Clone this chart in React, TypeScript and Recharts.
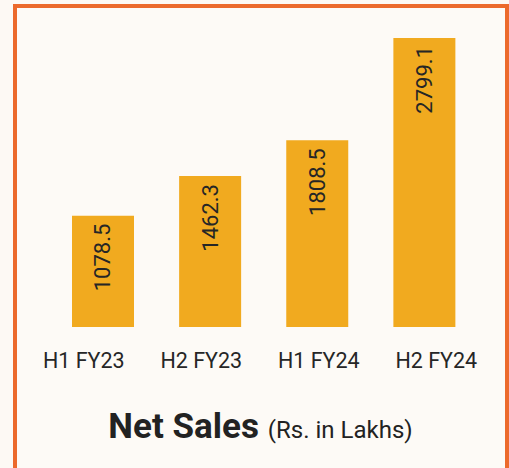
import React from 'react';
import { BarChart, Bar, XAxis, YAxis, LabelList } from 'recharts';

const categories = ['H1 FY23', 'H2 FY23', 'H1 FY24', 'H2 FY24'];
const netSales = [1078.5, 1462.3, 1808.5, 2799.1];

const data = categories.map((c, i) => ({ name: c, value: netSales[i] }));

const FONT = 'Roboto, "Noto Sans", sans-serif';

const VLabel = (props: any) => {
  const { x, y, width, value } = props;
  const cx = x + width / 2;
  const ty = y + 8;
  return (
    <text
      x={cx + 7.5}
      y={ty}
      transform={`rotate(-90 ${cx + 7.5} ${ty})`}
      textAnchor="end"
      fontSize={22}
      fontFamily={FONT}
      fill="#262626"
    >
      {value}
    </text>
  );
};

const Tick = (props: any) => {
  const { x, y, payload } = props;
  return (
    <text x={x} y={y} dy={41} textAnchor="middle" fontSize={21.5} fontFamily={FONT} fill="#262626">
      {payload.value}
    </text>
  );
};

export default function App() {
  return (
    <div style={{ position: 'fixed', left: 0, top: 0, width: 509, height: 468, overflow: 'hidden', background: '#FDF9F4' }}>
      <div
        style={{
          position: 'absolute',
          left: 13,
          top: 4,
          width: 496,
          height: 520,
          boxSizing: 'border-box',
          border: '4px solid #EC6A2C',
          background: '#FDFAF6',
        }}
      />
      <div style={{ position: 'absolute', left: 0, top: 0 }}>
        <BarChart width={509} height={468} data={data} margin={{ top: 38, right: 14, left: 25, bottom: 0 }} barSize={62}>
          <YAxis hide domain={[0, 2799.1]} />
          <XAxis xAxisId="bars" dataKey="name" hide height={0} padding={{ left: 24, right: 17.5 }} />
          <XAxis
            xAxisId="labels"
            dataKey="name"
            height={141}
            axisLine={false}
            tickLine={false}
            tick={<Tick />}
            tickMargin={0}
            tickSize={0}
            interval={0}
          />
          <Bar xAxisId="bars" dataKey="value" fill="#F1AA1F" isAnimationActive={false}>
            <LabelList dataKey="value" content={<VLabel />} />
          </Bar>
        </BarChart>
      </div>
      <svg width={509} height={468} style={{ position: 'absolute', left: 0, top: 0, pointerEvents: 'none' }}>
        <text x={260.5} y={438} textAnchor="middle" fontFamily={FONT} fill="#222">
          <tspan fontWeight={700} fontSize={35}>Net Sales</tspan>
          <tspan fontSize={24} dx={9}>(Rs. in Lakhs)</tspan>
        </text>
      </svg>
    </div>
  );
}
